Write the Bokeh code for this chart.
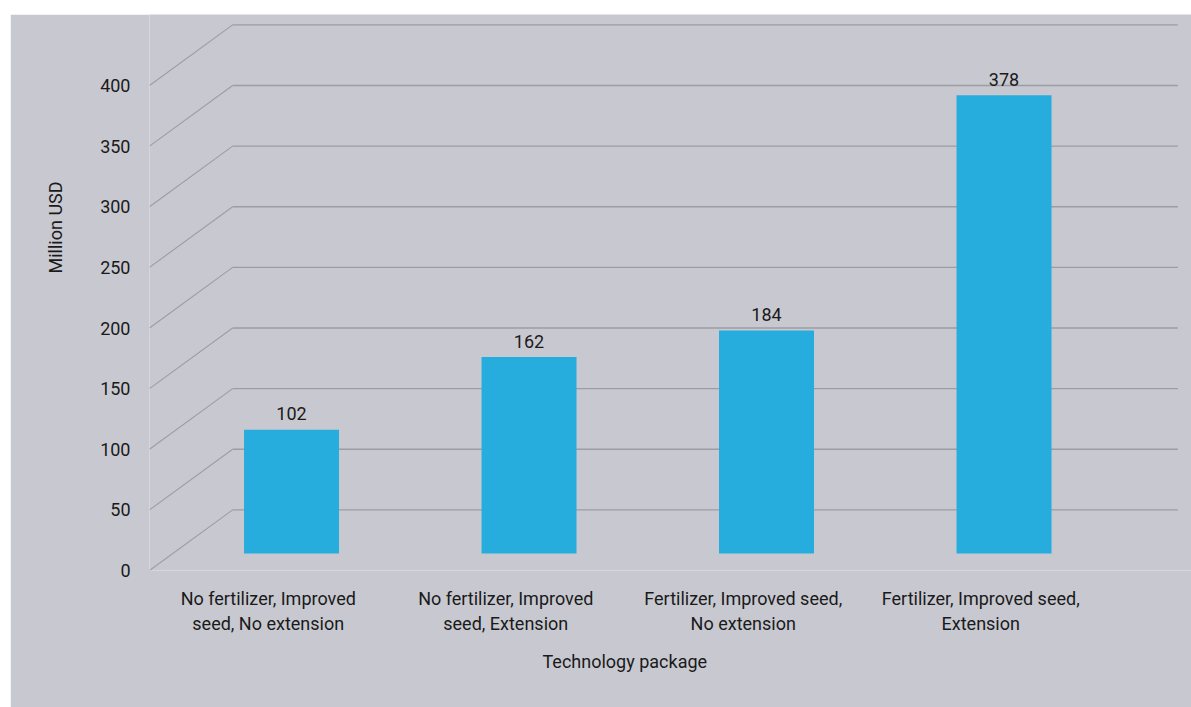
from bokeh.plotting import figure
from bokeh.models import (ColumnDataSource, FixedTicker, Range1d, Title, LinearAxis)
from bokeh.core.properties import value
from bokeh.embed import file_html
from bokeh.resources import INLINE

# ---- data ----
categories = ["No fertilizer, Improved\nseed, No extension",
              "No fertilizer, Improved\nseed, Extension",
              "Fertilizer, Improved seed,\nNo extension",
              "Fertilizer, Improved seed,\nExtension"]
values = [102, 162, 184, 378]
y_ticks = [0, 50, 100, 150, 200, 250, 300, 350, 400]
y_label = "Million USD"
x_label = "Technology package"

# ---- style ----
FONT = "Roboto"
FS = "18px"
BG = "#c8c9d0"
BAR = "#27acde"
GRID = "#9c9da3"
TXT = "#1a1a1a"
DEPTH_X = 0.35      # 3D depth shift, x (category units)
DEPTH_Y = 50        # 3D depth shift, y (value units)
BAR_DEPTH = 0.28    # fraction of depth where bars stand
BAR_W = 0.40
WALL_W = 3.98

W, H = 1181, 693
p = figure(width=W, height=H, output_backend="svg", toolbar_location=None,
           x_range=Range1d(0, 1042 / 237.5), y_range=Range1d(0, 556 / 1.2125),
           min_border_left=139, min_border_right=0, min_border_top=0,
           min_border_bottom=H - 556, x_axis_location=None, y_axis_location=None)
p.margin = (14, 0, 0, 10)
p.background_fill_color = BG
p.border_fill_color = BG
p.outline_line_color = None
p.xgrid.visible = False
p.ygrid.visible = False

# grid: diagonal floor-to-wall lines and back wall lines
n = len(categories)
diag = ColumnDataSource(dict(
    xs=[[0, DEPTH_X] for v in y_ticks],
    ys=[[v, v + DEPTH_Y] for v in y_ticks]))
p.multi_line("xs", "ys", source=diag, line_color=GRID, line_width=1.1)
wall = ColumnDataSource(dict(
    xs=[[DEPTH_X, DEPTH_X + WALL_W] for v in y_ticks],
    ys=[[v + DEPTH_Y, v + DEPTH_Y] for v in y_ticks]))
p.multi_line("xs", "ys", source=wall, line_color=GRID, line_width=1.4)

# bars
cx = [i + 0.5 + BAR_DEPTH * DEPTH_X for i in range(n)]
base = BAR_DEPTH * DEPTH_Y
src = ColumnDataSource(dict(x=cx, top=[base + v for v in values],
                            bottom=[base] * n, lab=[str(v) for v in values]))
p.vbar(x="x", top="top", bottom="bottom", width=BAR_W, source=src,
       fill_color=BAR, line_color=None)
p.text(x="x", y="top", text="lab", source=src, text_align="center",
       text_baseline="middle", y_offset=-16, text_font=value(FONT),
       text_font_size=FS, text_color=TXT)

# axes
def plain(ax):
    ax.axis_line_color = None
    ax.major_tick_line_color = None
    ax.minor_tick_line_color = None
    ax.major_tick_out = 0
    ax.major_label_text_font = FONT
    ax.major_label_text_font_size = FS
    ax.major_label_text_color = TXT

ya = LinearAxis(ticker=FixedTicker(ticks=y_ticks))
plain(ya)
ya.major_label_standoff = 19
p.add_layout(ya, "left")

yt = Title(text=y_label, align="left", offset=297, standoff=64,
           vertical_align="bottom", text_font=FONT, text_font_size=FS,
           text_font_style="normal", text_color=TXT)
p.add_layout(yt, "left")

xa = LinearAxis(ticker=FixedTicker(ticks=[i + 0.5 for i in range(n)]))
plain(xa)
xa.major_label_overrides = {i + 0.5: c for i, c in enumerate(categories)}
xa.major_label_standoff = 17
p.add_layout(xa, "below")

xt = Title(text=x_label, align="left", offset=393, standoff=25,
           text_font=FONT, text_font_size=FS, text_font_style="normal",
           text_color=TXT)
p.add_layout(xt, "below")

open("out.html", "w").write(file_html(p, INLINE))
